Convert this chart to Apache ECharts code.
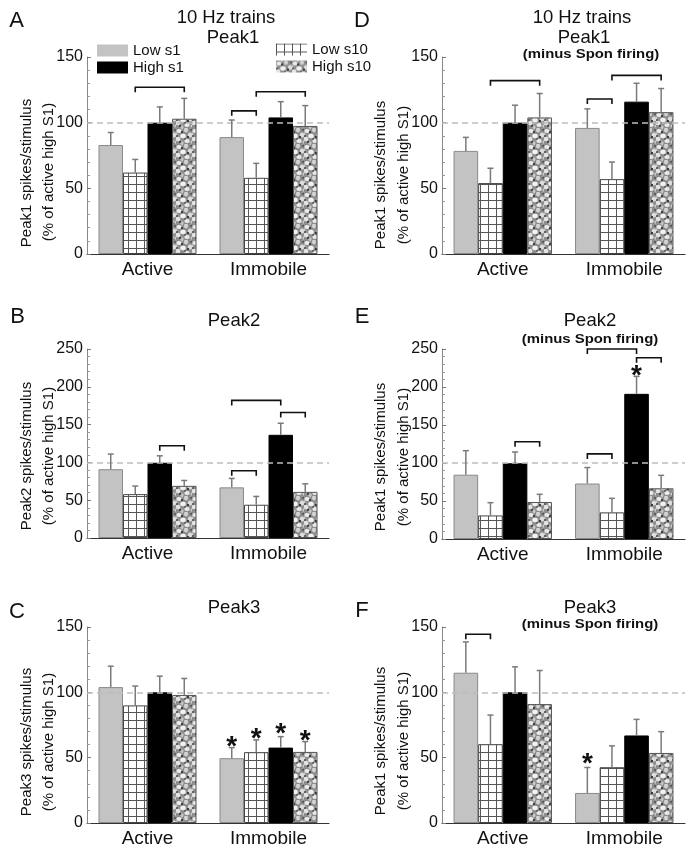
<!DOCTYPE html>
<html><head><meta charset="utf-8">
<script src="https://cdn.jsdelivr.net/npm/echarts@6/dist/echarts.min.js"></script>
<style>html,body{margin:0;padding:0;background:#fff}#c{width:694px;height:855px}</style>
</head><body><div id="c"></div>
<script>
// ---------------- DATA ----------------
const categories = ['Active', 'Immobile'];
const seriesNames = ['Low s1', 'Low s10', 'High s1', 'High s10'];

// means [category][series], errors (upper SEM) [category][series]
const panelA_mean = [[83, 62, 100, 103], [89, 58, 104, 97.5]];
const panelA_err  = [[9.5, 10, 12, 15.5], [13, 11, 12, 15.5]];
const panelA_brackets = [[0, 1, 3, 127], [1, 0, 1, 109], [1, 1, 3, 123.5]]; // [cat, fromBar, toBar, y]
const panelA_stars = [];

const panelB_mean = [[91, 58, 99.5, 69], [67, 44, 136.5, 61]];
const panelB_err  = [[20, 10.7, 9.2, 7.1], [11.8, 11, 15.3, 10.7]];
const panelB_brackets = [[0, 2, 3, 122], [1, 0, 1, 89], [1, 0, 2, 182], [1, 2, 3, 166]];
const panelB_stars = [];

const panelC_mean = [[104, 90, 100, 98], [49.6, 54.2, 57.7, 54.4]];
const panelC_err  = [[16, 14.8, 12.4, 12.6], [8.1, 9.4, 8.4, 7.9]];
const panelC_brackets = [];
const panelC_stars = [[1, 0, 62.3], [1, 1, 68.6], [1, 2, 72.5], [1, 3, 67.4]]; // [cat, bar, y]

const panelD_mean = [[78.5, 54, 100, 104], [96, 57, 116, 108]];
const panelD_err  = [[10.3, 11.3, 13.3, 18.2], [14.5, 13, 14, 18]];
const panelD_brackets = [[0, 1, 3, 132], [1, 0, 1, 118], [1, 1, 3, 136]];
const panelD_stars = [];

const panelE_mean = [[84.6, 31, 99.6, 48.7], [73, 35, 191, 66.7]];
const panelE_err  = [[31.6, 16.8, 14.9, 10.1], [21, 18.5, 23, 17.1]];
const panelE_brackets = [[0, 2, 3, 128], [1, 0, 1, 112], [1, 0, 2, 250], [1, 2, 3, 238.5]];
const panelE_stars = [[1, 2, 222]];

const panelF_mean = [[115, 60.3, 100, 91], [23, 42.7, 67, 53.6]];
const panelF_err  = [[23.6, 22.3, 19.5, 25.7], [19.5, 16.3, 12.3, 16.3]];
const panelF_brackets = [[0, 0, 1, 144.4]];
const panelF_stars = [[1, 0, 49.6]];

const yTicksSmall = [0, 50, 100, 150];
const yTicksLarge = [0, 50, 100, 150, 200, 250];
const referenceLevel = 100;

// ---------------- STYLE / LAYOUT ----------------
const FONT = '"Liberation Sans", Arial, sans-serif';
const CAT_GAP = 0.19;

function gridPattern() {
  const c = document.createElement('canvas'); c.width = 8; c.height = 8;
  const g = c.getContext('2d');
  g.fillStyle = '#ffffff'; g.fillRect(0, 0, 8, 8);
  g.fillStyle = '#555555'; g.fillRect(0, 0, 8, 1); g.fillRect(0, 0, 1, 8);
  return c;
}
function mottledPattern() {
  const n = 16;
  const c = document.createElement('canvas'); c.width = n; c.height = n;
  const g = c.getContext('2d');
  g.fillStyle = '#8e8e8e'; g.fillRect(0, 0, n, n);
  const blobs = [
    [3, 3, 2.6, 2.0, '#ececec'], [10, 2, 2.0, 2.4, '#d4d4d4'], [7, 8, 2.8, 2.2, '#f2f2f2'],
    [14, 7, 2.2, 2.6, '#dedede'], [2, 11, 2.4, 2.2, '#e4e4e4'], [11, 13, 2.6, 2.0, '#ececec'],
    [16, 14, 1.6, 1.6, '#cfcfcf'], [0, 6, 1.4, 1.6, '#cfcfcf'], [6, 15, 1.6, 1.4, '#c8c8c8'],
    [6, 0, 1.2, 1.2, '#c8c8c8']
  ];
  blobs.forEach(b => { g.fillStyle = b[4]; g.beginPath(); g.ellipse(b[0], b[1], b[2], b[3], 0, 0, Math.PI * 2); g.fill(); });
  const dots = [[6, 4, 1.0], [12, 9, 1.1], [4, 14, 0.9], [15, 2, 0.8], [1, 8, 0.8], [9, 11, 0.7]];
  g.fillStyle = '#222222';
  dots.forEach(d => { g.beginPath(); g.arc(d[0], d[1], d[2], 0, Math.PI * 2); g.fill(); });
  return c;
}
const fills = [
  '#c3c3c3',
  { image: gridPattern(), repeat: 'repeat' },
  '#000000',
  { image: mottledPattern(), repeat: 'repeat' }
];
const borders = ['#8a8a8a', '#444444', '#000000', '#555555'];

const panels = [
  { mean: panelA_mean, err: panelA_err, br: panelA_brackets, st: panelA_stars, ticks: yTicksSmall, grid: { left: 87, top: 57, width: 242, height: 197 } },
  { mean: panelB_mean, err: panelB_err, br: panelB_brackets, st: panelB_stars, ticks: yTicksLarge, grid: { left: 87, top: 349, width: 242, height: 189 } },
  { mean: panelC_mean, err: panelC_err, br: panelC_brackets, st: panelC_stars, ticks: yTicksSmall, grid: { left: 87, top: 627, width: 242, height: 196 } },
  { mean: panelD_mean, err: panelD_err, br: panelD_brackets, st: panelD_stars, ticks: yTicksSmall, grid: { left: 442, top: 57, width: 243, height: 197 } },
  { mean: panelE_mean, err: panelE_err, br: panelE_brackets, st: panelE_stars, ticks: yTicksLarge, grid: { left: 442, top: 349, width: 243, height: 190 } },
  { mean: panelF_mean, err: panelF_err, br: panelF_brackets, st: panelF_stars, ticks: yTicksSmall, grid: { left: 442, top: 627, width: 243, height: 196 } }
];

function barX(api, cat, bar) {
  const center = api.coord([cat, 0])[0];
  const band = api.size([1, 0])[0];
  const bw = band * (1 - CAT_GAP) / 4;
  return center + (bar - 1.5) * bw;
}

const grids = [], xAxes = [], yAxes = [], series = [];
panels.forEach((p, i) => {
  grids.push(Object.assign({ containLabel: false }, p.grid));
  xAxes.push({
    gridIndex: i, type: 'category', data: categories,
    axisLine: { lineStyle: { color: '#333', width: 1 } },
    axisTick: { show: false },
    axisLabel: { fontSize: 19, color: '#111', margin: 6, fontFamily: FONT }
  });
  yAxes.push({
    gridIndex: i, type: 'value', min: p.ticks[0], max: p.ticks[p.ticks.length - 1],
    interval: p.ticks[1] - p.ticks[0],
    axisLine: { show: true, lineStyle: { color: '#888', width: 1 } },
    axisTick: { show: true, inside: true, length: 4, lineStyle: { color: '#777' } },
    minorTick: { show: true, splitNumber: 5, length: 3, lineStyle: { color: '#999' } },
    splitLine: { show: false },
    axisLabel: { fontSize: 16, color: '#111', margin: 4, fontFamily: FONT }
  });
  seriesNames.forEach((name, s) => {
    series.push({
      type: 'bar', name: name, xAxisIndex: i, yAxisIndex: i,
      data: p.mean.map(row => row[s]),
      barGap: '0%', barCategoryGap: (CAT_GAP * 100) + '%',
      itemStyle: { color: fills[s], borderColor: borders[s], borderWidth: 1 },
      z: 2
    });
  });
  // error bars + reference line
  const errData = [];
  p.mean.forEach((row, c) => row.forEach((m, s) => errData.push([c, s, m, p.err[c][s]])));
  series.push({
    type: 'custom', xAxisIndex: i, yAxisIndex: i, z: 5, data: errData,
    encode: { x: 0, y: 2 },
    renderItem: function (params, api) {
      const c = api.value(0), s = api.value(1), m = api.value(2), e = api.value(3);
      const x = barX(api, c, s);
      const y0 = api.coord([c, m])[1], y1 = api.coord([c, m + e])[1];
      return { type: 'group', children: [
        { type: 'line', shape: { x1: x, y1: y0, x2: x, y2: y1 }, style: { stroke: '#7a7a7a', lineWidth: 1.5 } },
        { type: 'line', shape: { x1: x - 3, y1: y1, x2: x + 3, y2: y1 }, style: { stroke: '#7a7a7a', lineWidth: 1.5 } }
      ]};
    },
    markLine: {
      silent: true, symbol: 'none', label: { show: false },
      lineStyle: { type: [6, 4], color: '#bdbdbd', width: 1.5 },
      data: [{ yAxis: referenceLevel }]
    }
  });
  if (p.br.length) series.push({
    type: 'custom', xAxisIndex: i, yAxisIndex: i, z: 6, data: p.br,
    encode: { x: 0, y: 3 },
    renderItem: function (params, api) {
      const c = api.value(0);
      const x1 = barX(api, c, api.value(1)), x2 = barX(api, c, api.value(2));
      const y = api.coord([c, api.value(3)])[1];
      return { type: 'polyline', shape: { points: [[x1, y + 5], [x1, y], [x2, y], [x2, y + 5]] },
        style: { stroke: '#111', lineWidth: 1.6, fill: null } };
    }
  });
  if (p.st.length) series.push({
    type: 'custom', xAxisIndex: i, yAxisIndex: i, z: 6, data: p.st,
    encode: { x: 0, y: 2 },
    renderItem: function (params, api) {
      const c = api.value(0);
      const x = barX(api, c, api.value(1));
      const y = api.coord([c, api.value(2)])[1];
      return { type: 'text', x: x, y: y + 6,
        style: { text: '*', font: 'bold 28px ' + FONT, fill: '#111', align: 'center', verticalAlign: 'middle', textAlign: 'center', textVerticalAlign: 'middle' } };
    }
  });
});

function txt(t, x, y, size, opts) {
  opts = opts || {};
  return {
    type: 'text', x: x, y: y, rotation: opts.rot || 0, scaleX: opts.sx || 1,
    style: { text: t, font: (opts.bold ? 'bold ' : '') + size + 'px ' + FONT, fill: '#111',
      align: 'center', verticalAlign: 'middle', textAlign: 'center', textVerticalAlign: 'middle' }
  };
}
const R = Math.PI / 2;
const graphics = [
  txt('A', 16.5, 21, 22), txt('10 Hz trains', 226, 18, 18.5), txt('Peak1', 233, 38, 18.5),
  txt('D', 362, 21, 22), txt('10 Hz trains', 582, 18, 18.5), txt('Peak1', 584, 38, 18.5),
  txt('(minus Spon firing)', 591, 55, 12, { bold: true, sx: 1.24 }),
  txt('B', 17.5, 317, 22), txt('Peak2', 234, 321, 18.5),
  txt('E', 362, 317, 22), txt('Peak2', 590, 321, 18.5),
  txt('(minus Spon firing)', 590, 340, 12, { bold: true, sx: 1.24 }),
  txt('C', 17, 612, 22), txt('Peak3', 234, 608, 18.5),
  txt('F', 362, 611, 22), txt('Peak3', 590, 608, 18.5),
  txt('(minus Spon firing)', 590, 625, 12, { bold: true, sx: 1.24 }),
  txt('Peak1 spikes/stimulus', 27, 173, 15, { rot: R }), txt('(% of active high S1)', 49, 172, 15, { rot: R }),
  txt('Peak2 spikes/stimulus', 27, 456, 15, { rot: R }), txt('(% of active high S1)', 49, 456, 15, { rot: R }),
  txt('Peak3 spikes/stimulus', 27, 742, 15, { rot: R }), txt('(% of active high S1)', 49, 742, 15, { rot: R }),
  txt('Peak1 spikes/stimulus', 381, 175, 15, { rot: R }), txt('(% of active high S1)', 404, 175, 15, { rot: R }),
  txt('Peak1 spikes/stimulus', 381, 457, 15, { rot: R }), txt('(% of active high S1)', 404, 457, 15, { rot: R }),
  txt('Peak1 spikes/stimulus', 381, 741, 15, { rot: R }), txt('(% of active high S1)', 404, 741, 15, { rot: R })
];

const legendCommon = {
  orient: 'vertical', icon: 'rect', itemWidth: 31, itemHeight: 12, itemGap: 2,
  textStyle: { fontSize: 15, color: '#111', fontFamily: FONT }, selectedMode: false,
  itemStyle: { borderWidth: 0 }
};

const chart = echarts.init(document.getElementById('c'), null, { renderer: 'canvas' });
chart.setOption({
  animation: false,
  backgroundColor: '#fff',
  textStyle: { fontFamily: FONT },
  grid: grids, xAxis: xAxes, yAxis: yAxes, series: series,
  legend: [
    Object.assign({ left: 92, top: 38, data: ['Low s1', 'High s1'] }, legendCommon),
    Object.assign({ left: 271, top: 37, data: ['Low s10', 'High s10'] }, legendCommon)
  ],
  graphic: graphics
});
</script>
</body></html>
